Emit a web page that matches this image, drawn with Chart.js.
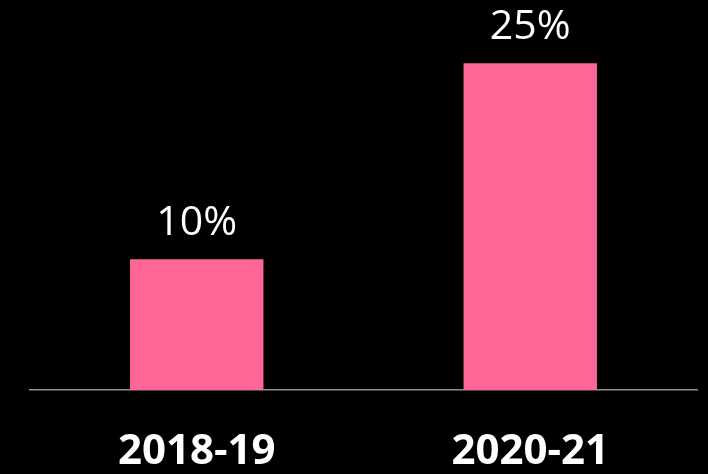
<!DOCTYPE html>
<html>
<head>
<meta charset="utf-8">
<script src="https://cdn.jsdelivr.net/npm/chart.js@4"></script>
<style>
  html, body { margin: 0; padding: 0; background: #000; }
  #wrap { width: 708px; height: 474px; }
</style>
</head>
<body>
<div id="wrap"><canvas id="chart"></canvas></div>
<script>
const years = ['2018-19', '2020-21'];
const shares = [10, 25];

// value labels above bars
const valueLabels = {
  id: 'valueLabels',
  afterDatasetsDraw: (chart) => {
    const {ctx} = chart;
    const meta = chart.getDatasetMeta(0);
    ctx.save();
    ctx.fillStyle = '#ffffff';
    ctx.font = '41px "Open Sans", sans-serif';
    ctx.textAlign = 'center';
    ctx.textBaseline = 'middle';
    meta.data.forEach((bar, i) => {
      ctx.fillText(shares[i] + '%', bar.x, bar.y - 36);
    });
    ctx.restore();
  }
};

const bgPlugin = {
  id: 'bg',
  beforeDraw: (chart) => {
    const {ctx} = chart;
    ctx.save();
    ctx.globalCompositeOperation = 'destination-over';
    ctx.fillStyle = '#000';
    ctx.fillRect(0, 0, chart.width, chart.height);
    ctx.restore();
  }
};

new Chart(document.getElementById('chart'), {
  type: 'bar',
  data: {
    labels: years,
    datasets: [{
      data: shares,
      backgroundColor: '#FF6695',
      categoryPercentage: 1,
      barPercentage: 0.4
    }]
  },
  options: {
    responsive: true,
    maintainAspectRatio: false,
    animation: false,
    layout: { padding: { left: 30, right: 11, top: 24, bottom: 0 } },
    plugins: {
      legend: { display: false },
      tooltip: { enabled: false }
    },
    scales: {
      x: {
        grid: { display: false, drawTicks: false },
        border: { display: true, color: '#909090', width: 1.5 },
        ticks: {
          color: '#ffffff',
          padding: 37,
          font: { family: '"Open Sans", sans-serif', size: 42, weight: 'bold' }
        },
        afterFit: (scale) => { scale.height = 84; }
      },
      y: {
        display: false,
        min: 0,
        max: 28
      }
    }
  },
  plugins: [valueLabels, bgPlugin]
});
</script>
</body>
</html>
